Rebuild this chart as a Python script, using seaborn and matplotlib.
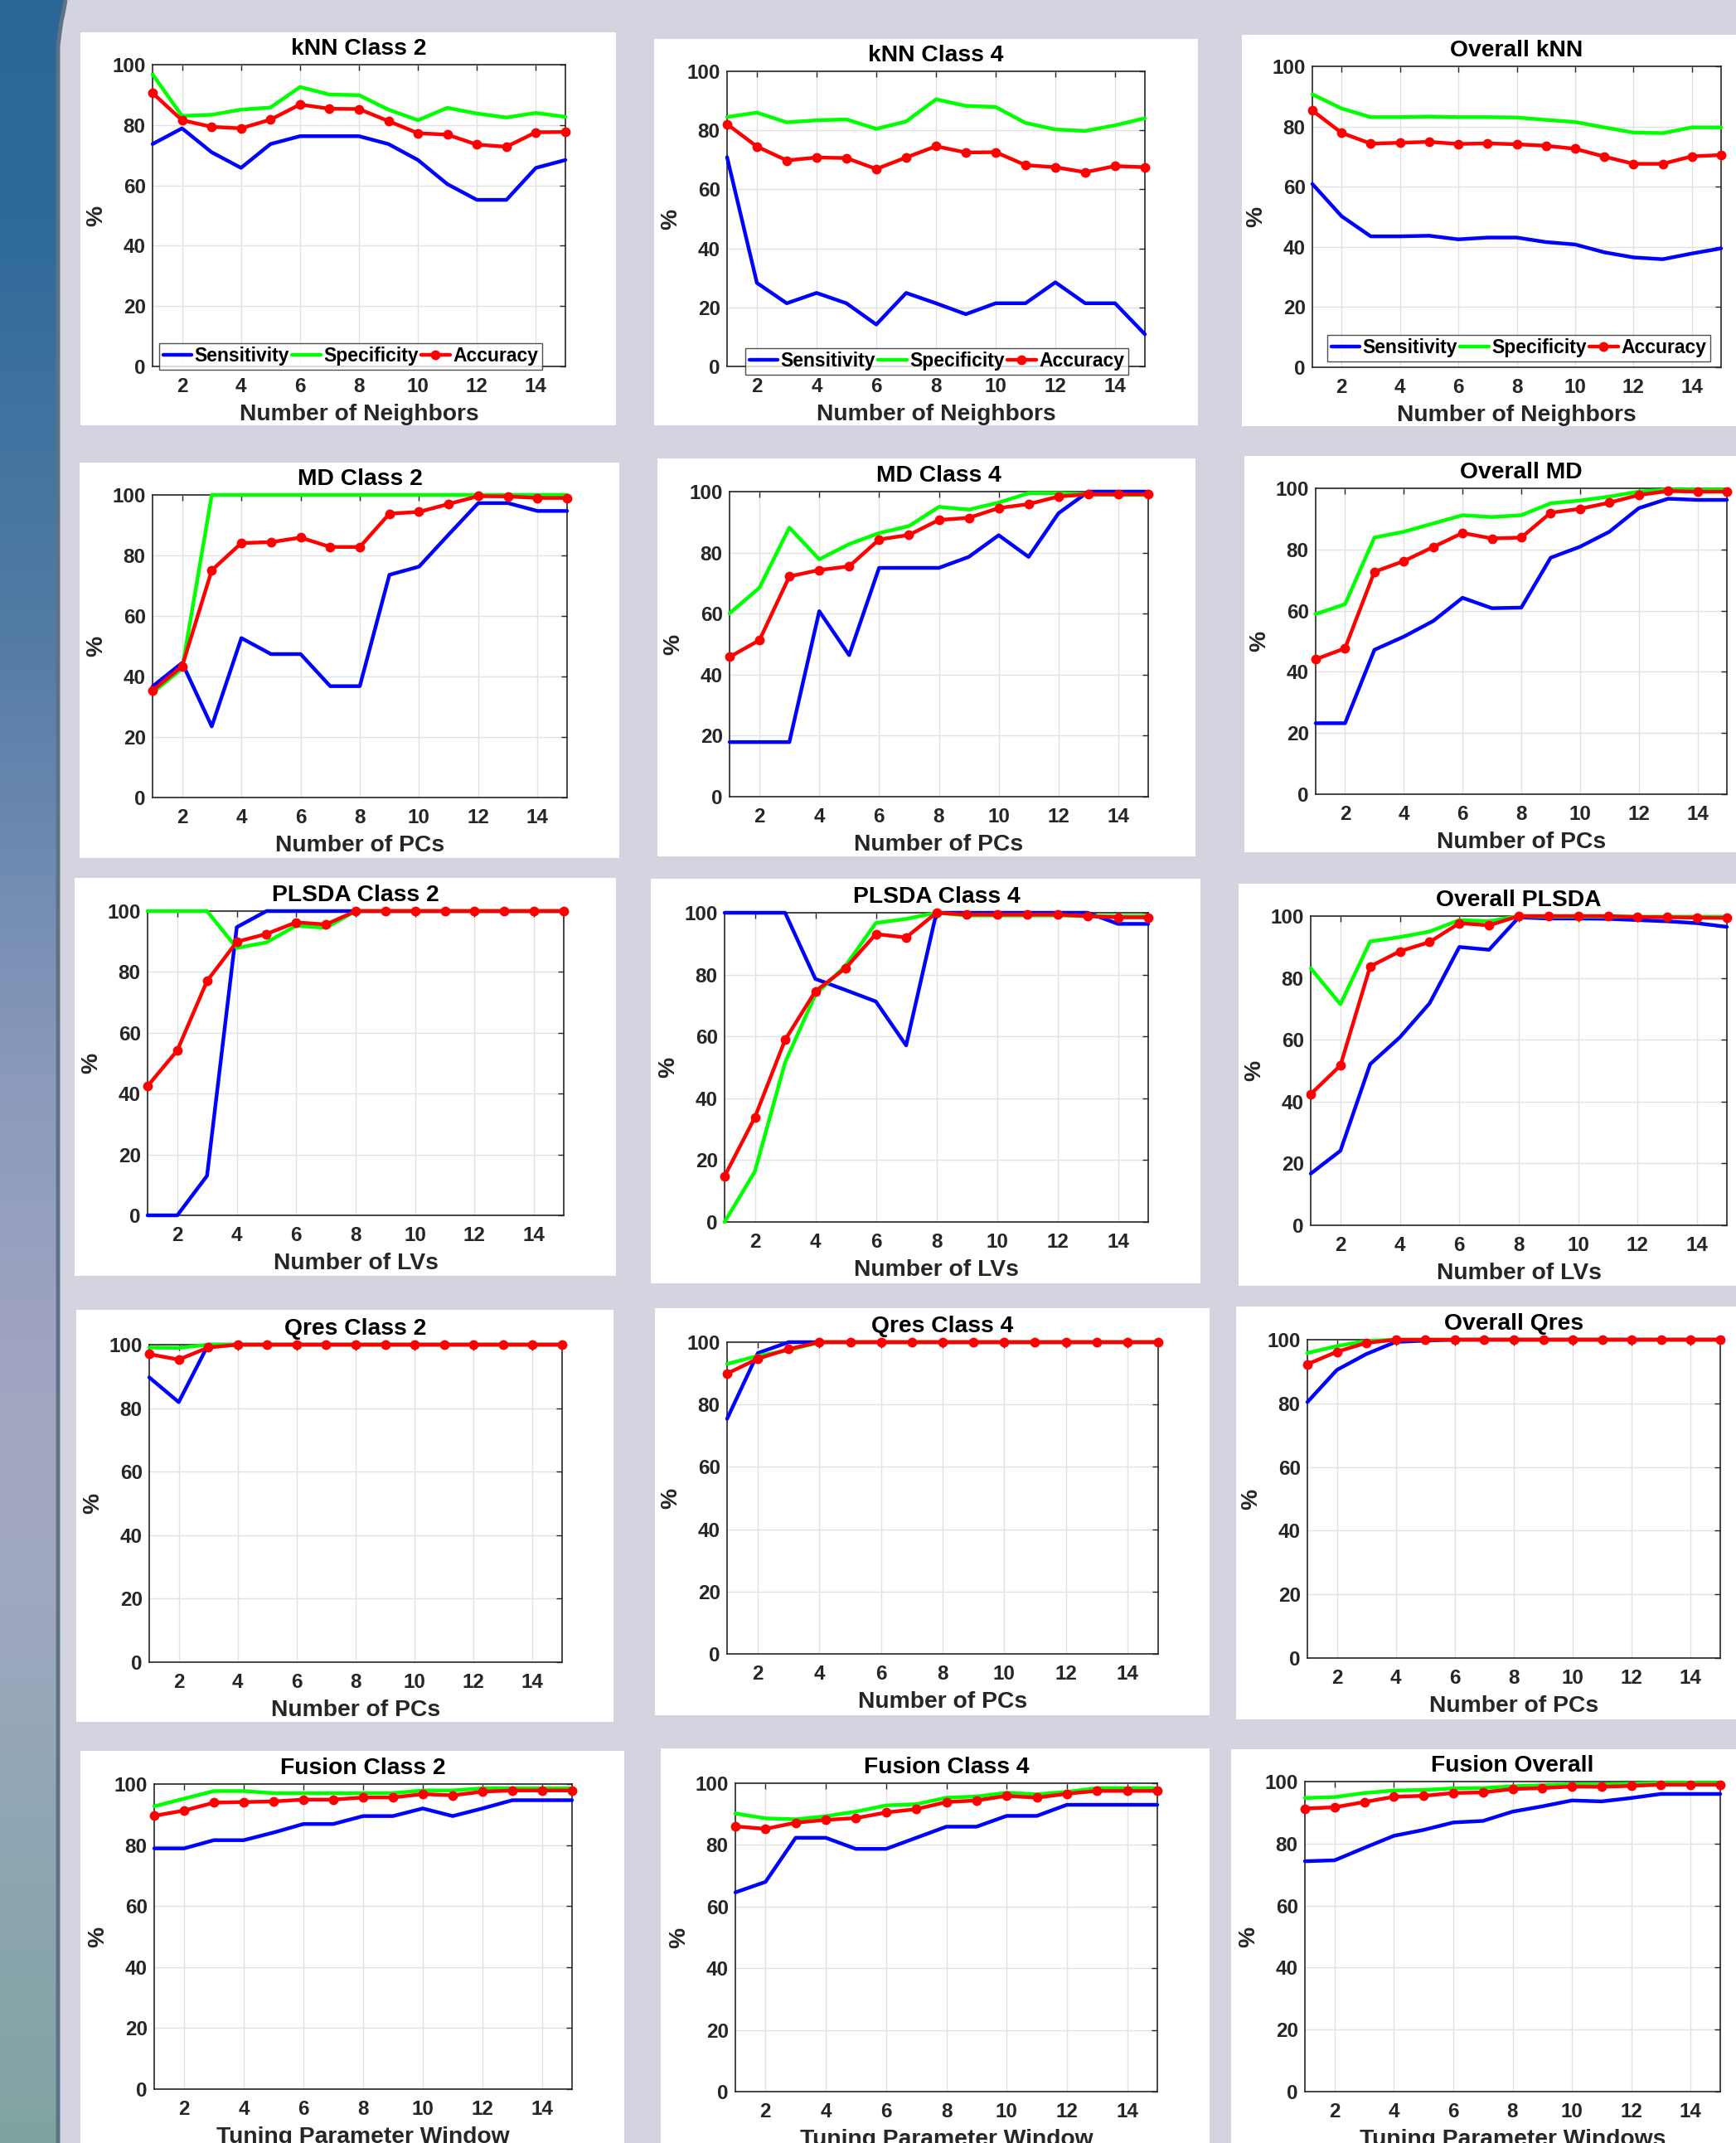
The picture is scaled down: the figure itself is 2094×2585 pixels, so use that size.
import numpy as np
import pandas as pd
import matplotlib
matplotlib.use("Agg")
import matplotlib.pyplot as plt
import seaborn as sns
from matplotlib.patches import Rectangle, Polygon
from matplotlib.lines import Line2D

# ---------------------------------------------------------------- data
n_param = list(range(1, 16))
x_ticks = [2, 4, 6, 8, 10, 12, 14]
y_ticks = [0, 20, 40, 60, 80, 100]
metric_names = ["Sensitivity", "Specificity", "Accuracy"]

knn_c2_sens = [73.7, 78.9, 71.0, 65.8, 73.7, 76.3, 76.3, 76.3, 73.7, 68.4, 60.4, 55.2, 55.2, 65.8, 68.4]
knn_c2_spec = [96.8, 83.0, 83.4, 85.1, 85.8, 92.6, 90.1, 89.9, 85.1, 81.6, 85.7, 83.8, 82.5, 84.0, 82.7]
knn_c2_acc = [90.6, 81.6, 79.4, 78.9, 81.8, 86.8, 85.4, 85.3, 81.3, 77.3, 76.8, 73.5, 72.8, 77.6, 77.7]

knn_c4_sens = [70.9, 28.3, 21.4, 24.9, 21.4, 14.2, 24.9, 21.4, 17.7, 21.4, 21.4, 28.5, 21.4, 21.4, 10.9]
knn_c4_spec = [84.5, 86.0, 82.7, 83.4, 83.7, 80.5, 83.0, 90.5, 88.3, 87.9, 82.5, 80.3, 79.8, 81.7, 84.1]
knn_c4_acc = [82.1, 74.5, 69.8, 70.8, 70.6, 66.9, 70.8, 74.6, 72.5, 72.6, 68.2, 67.5, 65.8, 67.9, 67.5]

knn_all_sens = [60.9, 50.2, 43.5, 43.5, 43.7, 42.5, 43.1, 43.1, 41.6, 40.8, 38.2, 36.5, 35.9, 37.8, 39.5]
knn_all_spec = [90.7, 86.0, 83.1, 83.1, 83.3, 83.1, 83.1, 83.0, 82.2, 81.5, 79.7, 78.0, 77.8, 79.7, 79.7]
knn_all_acc = [85.3, 77.9, 74.3, 74.6, 74.9, 74.2, 74.4, 74.1, 73.6, 72.6, 70.0, 67.6, 67.6, 70.1, 70.5]

md_c2_sens = [36.7, 44.5, 23.5, 52.7, 47.4, 47.4, 36.8, 36.8, 73.6, 76.3, 86.9, 97.3, 97.3, 94.7, 94.7]
md_c2_spec = [34.6, 42.6, 100, 100, 100, 100, 100, 100, 100, 100, 100, 100, 100, 100, 100]
md_c2_acc = [35.3, 43.4, 75.1, 84.1, 84.4, 85.9, 82.8, 82.8, 93.8, 94.4, 97.0, 99.6, 99.5, 99.0, 99.0]

md_c4_sens = [17.9, 17.9, 17.9, 60.8, 46.4, 75.0, 75.0, 75.0, 78.6, 85.7, 78.6, 92.9, 100, 100, 100]
md_c4_spec = [60.1, 68.5, 88.2, 77.8, 82.8, 86.4, 88.7, 95.0, 94.1, 96.4, 99.5, 99.5, 99.1, 98.9, 98.9]
md_c4_acc = [45.8, 51.3, 72.2, 74.3, 75.5, 84.3, 85.8, 90.7, 91.4, 94.6, 95.9, 98.4, 99.1, 99.1, 99.1]

md_all_sens = [23.2, 23.2, 47.2, 51.5, 56.6, 64.2, 60.8, 61.0, 77.3, 80.9, 85.8, 93.5, 96.6, 96.2, 96.2]
md_all_spec = [58.9, 62.1, 83.9, 85.8, 88.5, 91.2, 90.6, 91.2, 95.1, 96.0, 97.3, 98.9, 99.6, 99.6, 99.6]
md_all_acc = [44.1, 47.7, 72.7, 76.2, 80.8, 85.4, 83.6, 83.9, 92.0, 93.3, 95.3, 97.8, 99.1, 98.9, 98.9]

pls_c2_sens = [0, 0, 13.0, 94.7, 100, 100, 100, 100, 100, 100, 100, 100, 100, 100, 100]
pls_c2_spec = [100, 100, 100, 87.9, 89.7, 95.2, 94.5, 100, 100, 100, 100, 100, 100, 100, 100]
pls_c2_acc = [42.5, 54.2, 77.0, 89.9, 92.5, 96.3, 95.6, 100, 100, 100, 100, 100, 100, 100, 100]

pls_c4_sens = [100, 100, 100, 78.6, 75.0, 71.3, 57.1, 100, 100, 100, 100, 100, 100, 96.4, 96.4]
pls_c4_spec = [0, 16.3, 51.6, 73.5, 82.9, 96.7, 98.0, 100, 99.1, 99.1, 99.1, 99.1, 98.9, 98.9, 98.9]
pls_c4_acc = [14.8, 33.8, 58.9, 74.6, 82.1, 93.1, 92.0, 100, 99.4, 99.4, 99.4, 99.4, 98.9, 98.5, 98.5]

pls_all_sens = [16.7, 24.1, 52.1, 60.8, 71.8, 90.0, 89.1, 99.6, 99.2, 99.2, 99.1, 98.7, 98.3, 97.7, 96.5]
pls_all_spec = [83.1, 71.5, 91.8, 93.2, 95.0, 98.7, 98.3, 100, 99.8, 99.8, 99.8, 99.8, 99.8, 99.8, 99.8]
pls_all_acc = [42.4, 51.7, 83.7, 88.6, 91.6, 97.7, 97.0, 100, 100, 100, 100, 99.7, 99.6, 99.5, 99.4]

qres_c2_sens = [89.7, 81.9, 100, 100, 100, 100, 100, 100, 100, 100, 100, 100, 100, 100, 100]
qres_c2_spec = [99.1, 99.0, 100, 100, 100, 100, 100, 100, 100, 100, 100, 100, 100, 100, 100]
qres_c2_acc = [97.0, 95.3, 99.1, 100, 100, 100, 100, 100, 100, 100, 100, 100, 100, 100, 100]

qres_c4_sens = [75.4, 96.5, 100, 100, 100, 100, 100, 100, 100, 100, 100, 100, 100, 100, 100]
qres_c4_spec = [93.0, 95.6, 97.4, 100, 100, 100, 100, 100, 100, 100, 100, 100, 100, 100, 100]
qres_c4_acc = [89.9, 94.7, 97.8, 100, 100, 100, 100, 100, 100, 100, 100, 100, 100, 100, 100]

qres_all_sens = [80.4, 90.5, 95.5, 99.3, 99.7, 100, 100, 100, 100, 100, 100, 100, 100, 100, 100]
qres_all_spec = [95.8, 98.0, 99.6, 100, 100, 100, 100, 100, 100, 100, 100, 100, 100, 100, 100]
qres_all_acc = [92.3, 96.2, 99.0, 100, 100, 100, 100, 100, 100, 100, 100, 100, 100, 100, 100]

fus_c2_sens = [78.9, 78.9, 81.6, 81.6, 84.1, 86.9, 86.9, 89.5, 89.5, 92.0, 89.5, 92.0, 94.7, 94.7, 94.7]
fus_c2_spec = [92.7, 95.2, 97.7, 97.7, 97.0, 97.0, 97.0, 97.0, 97.0, 97.9, 97.9, 98.6, 98.6, 98.6, 98.6]
fus_c2_acc = [89.6, 91.3, 93.9, 94.1, 94.3, 94.9, 94.9, 95.6, 95.6, 96.7, 96.3, 97.5, 97.9, 97.9, 97.9]

fus_c4_sens = [64.6, 68.0, 82.3, 82.3, 78.7, 78.7, 82.3, 85.9, 85.9, 89.4, 89.4, 93.0, 93.0, 93.0, 93.0]
fus_c4_spec = [90.2, 88.6, 88.3, 89.3, 90.8, 92.8, 93.2, 95.3, 95.7, 96.9, 96.4, 97.2, 98.4, 98.4, 98.4]
fus_c4_acc = [86.0, 85.2, 87.2, 88.1, 88.7, 90.5, 91.6, 93.9, 94.4, 95.9, 95.3, 96.6, 97.5, 97.5, 97.5]

fus_all_sens = [74.3, 74.6, 78.6, 82.5, 84.4, 86.8, 87.3, 90.3, 92.0, 93.9, 93.6, 94.7, 96.0, 96.0, 96.0]
fus_all_spec = [94.7, 95.0, 96.3, 97.1, 97.3, 97.8, 97.9, 98.5, 98.8, 99.1, 99.1, 99.3, 99.6, 99.6, 99.6]
fus_all_acc = [91.3, 91.7, 93.4, 95.1, 95.4, 96.3, 96.5, 97.6, 97.9, 98.4, 98.3, 98.6, 99.0, 99.0, 99.0]

titles = ["kNN Class 2", "kNN Class 4", "Overall kNN",
          "MD Class 2", "MD Class 4", "Overall MD",
          "PLSDA Class 2", "PLSDA Class 4", "Overall PLSDA",
          "Qres Class 2", "Qres Class 4", "Overall Qres",
          "Fusion Class 2", "Fusion Class 4", "Fusion Overall"]
xlabels = ["Number of Neighbors"] * 3 + ["Number of PCs"] * 3 + ["Number of LVs"] * 3 + \
          ["Number of PCs"] * 3 + ["Tuning Parameter Window"] * 2 + ["Tuning Parameter Windows"]

panel_series = [
    (knn_c2_sens, knn_c2_spec, knn_c2_acc), (knn_c4_sens, knn_c4_spec, knn_c4_acc),
    (knn_all_sens, knn_all_spec, knn_all_acc),
    (md_c2_sens, md_c2_spec, md_c2_acc), (md_c4_sens, md_c4_spec, md_c4_acc),
    (md_all_sens, md_all_spec, md_all_acc),
    (pls_c2_sens, pls_c2_spec, pls_c2_acc), (pls_c4_sens, pls_c4_spec, pls_c4_acc),
    (pls_all_sens, pls_all_spec, pls_all_acc),
    (qres_c2_sens, qres_c2_spec, qres_c2_acc), (qres_c4_sens, qres_c4_spec, qres_c4_acc),
    (qres_all_sens, qres_all_spec, qres_all_acc),
    (fus_c2_sens, fus_c2_spec, fus_c2_acc), (fus_c4_sens, fus_c4_spec, fus_c4_acc),
    (fus_all_sens, fus_all_spec, fus_all_acc),
]

# ---------------------------------------------------------------- layout (pixels)
W, H = 2094, 2585
card_boxes = [
    (97, 39, 743, 513), (789, 47, 1445, 513), (1498, 42, 2094, 514),
    (96, 558, 747, 1035), (793, 553, 1442, 1033), (1501, 550, 2094, 1028),
    (90, 1059, 743, 1539), (785, 1060, 1448, 1548), (1494, 1066, 2094, 1551),
    (92, 1580, 740, 2077), (790, 1578, 1459, 2069), (1491, 1576, 2094, 2074),
    (97, 2112, 753, 2585), (797, 2109, 1459, 2585), (1485, 2110, 2094, 2585),
]
axes_boxes = [
    (184, 78, 682, 442), (877, 86, 1381, 442), (1583, 80, 2076, 443),
    (184, 597, 684, 962), (880, 593, 1385, 961), (1587, 589, 2083, 958),
    (178, 1099, 680, 1466), (874, 1101, 1385, 1474), (1581, 1105, 2083, 1478),
    (180, 1622, 678, 2005), (877, 1619, 1397, 1995), (1577, 1616, 2075, 2000),
    (186, 2152, 690, 2520), (887, 2151, 1396, 2523), (1574, 2149, 2075, 2523),
]
legend_anchor = {0: (192, 446), 1: (899, 452), 2: (1601, 436)}


def fig_rect(l, t, r, b):
    return [l / W, 1 - b / H, (r - l) / W, (b - t) / H]


# ---------------------------------------------------------------- style
sns.set_style("white")
plt.rcParams["font.family"] = ["Liberation Sans", "DejaVu Sans"]
plt.rcParams["font.weight"] = "bold"
plt.rcParams["axes.titleweight"] = "bold"
plt.rcParams["axes.labelweight"] = "bold"

BG = "#d4d4e0"
INK = "#262626"
colors = {"Sensitivity": "#0000ff", "Specificity": "#00ff00", "Accuracy": "#ff0000"}

fig = plt.figure(figsize=(W / 100, H / 100), dpi=100)
fig.patch.set_facecolor(BG)

# background layer in pixel coordinates
bg = fig.add_axes([0, 0, 1, 1], zorder=-10)
bg.set_xlim(0, W)
bg.set_ylim(H, 0)
bg.axis("off")

stops_y = np.array([0.0, 0.1, 0.3, 0.5, 0.65, 0.75, 0.85, 1.0])
stops_c = np.array([
    [42, 102, 150], [46, 106, 153], [84, 124, 166], [138, 153, 188],
    [163, 166, 194], [160, 168, 192], [143, 166, 180], [128, 163, 160],
]) / 255.0
yy = np.linspace(0, 1, 600)
grad = np.stack([np.interp(yy, stops_y, stops_c[:, k]) for k in range(3)], axis=-1)[:, None, :]
strip_outline = [(0, 0), (79, 0), (77, 12), (74, 26), (72, 40), (70, 56), (70, H), (0, H)]
img = bg.imshow(grad, extent=[0, 82, H, 0], aspect="auto", interpolation="bilinear", zorder=1)
clip = Polygon(strip_outline, closed=True, transform=bg.transData, facecolor="none", edgecolor="none")
bg.add_patch(clip)
img.set_clip_path(clip)
edge = np.array(strip_outline[1:7])
bg.plot(edge[:, 0], edge[:, 1], color="#5d7385", lw=3.5, zorder=2, solid_capstyle="butt")

for (l, t, r, b) in card_boxes:
    bg.add_patch(Rectangle((l, t), r - l, b - t, facecolor="white", edgecolor="none", zorder=3))

# ---------------------------------------------------------------- panels
for i, (title, xlab, series) in enumerate(zip(titles, xlabels, panel_series)):
    ax = fig.add_axes(fig_rect(*axes_boxes[i]))
    df = pd.DataFrame({"n": n_param * 3,
                       "value": [v for s in series for v in s],
                       "metric": [m for m in metric_names for _ in n_param]})
    for m in metric_names:
        sub = df[df["metric"] == m]
        kw = dict(marker="o", markersize=8.5, markeredgewidth=0) if m == "Accuracy" else {}
        sns.lineplot(data=sub, x="n", y="value", ax=ax, color=colors[m], lw=3.2,
                     label=m, clip_on=False, zorder=4 + metric_names.index(m), **kw)

    ax.set_xlim(1, 15)
    ax.set_ylim(0, 100)
    ax.set_xticks(x_ticks)
    ax.set_yticks(y_ticks)
    ax.grid(True, color="#e2e2e2", lw=1.0)
    ax.set_axisbelow(True)
    for s in ax.spines.values():
        s.set_color(INK)
        s.set_linewidth(1.2)
    ax.tick_params(direction="in", length=5, width=1, colors=INK, labelsize=17.5,
                   top=True, right=True)
    ax.tick_params(axis="x", pad=9.5)
    ax.tick_params(axis="y", pad=6)
    for lab in ax.get_xticklabels() + ax.get_yticklabels():
        lab.set_fontweight("bold")
    ax.set_title(title, fontsize=20.3, fontweight="bold", color="black", pad=8.5)
    ax.set_xlabel(xlab, fontsize=20.3, fontweight="bold", color=INK, labelpad=6)
    ax.set_ylabel("%", fontsize=20.3, fontweight="bold", color=INK, labelpad=4)

    if i in legend_anchor:
        lx, ly = legend_anchor[i]
        al, at, ar, ab = axes_boxes[i]
        anchor = ((lx - al) / (ar - al), (ab - ly) / (ab - at))
        handles = [Line2D([], [], color=colors[m], lw=3.2,
                          marker="o" if m == "Accuracy" else None,
                          markersize=8.5, markeredgewidth=0) for m in metric_names]
        leg = ax.legend(handles, metric_names, loc="lower left", bbox_to_anchor=anchor,
                        ncol=3, fontsize=16.5, frameon=True, fancybox=False,
                        handlelength=1.5, handletextpad=0.15, columnspacing=0.15,
                        borderpad=0.2, borderaxespad=0.0)
        leg.get_frame().set_edgecolor(INK)
        leg.get_frame().set_linewidth(1.0)
        leg.set_zorder(10)
        for t in leg.get_texts():
            t.set_fontweight("bold")
            t.set_color("black")
    else:
        ax.get_legend().remove()

fig.savefig("out.png", dpi=100, facecolor=BG)
